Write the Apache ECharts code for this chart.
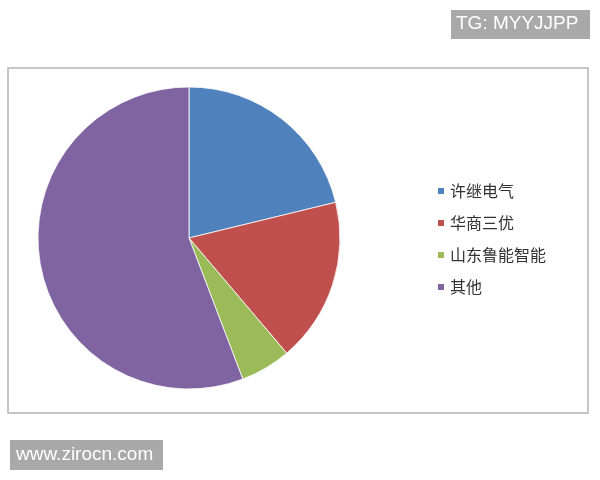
<!DOCTYPE html>
<html>
<head>
<meta charset="utf-8">
<script src="https://cdn.jsdelivr.net/npm/echarts@6/dist/echarts.min.js"></script>
<style>html,body{margin:0;padding:0;background:#fff;}#c{width:600px;height:480px;}</style>
</head>
<body>
<div id="c"></div>
<script>
var categories = ['许继电气', '华商三优', '山东鲁能智能', '其他'];
var values = [21.2, 17.6, 5.4, 55.8];
var colors = ['#4f81bd', '#c0504d', '#9bbb59', '#8064a2'];

var chart = echarts.init(document.getElementById('c'), null, {renderer: 'canvas'});
chart.setOption({
  backgroundColor: '#ffffff',
  animation: false,
  color: colors,
  graphic: [
    {type: 'rect', shape: {x: 8, y: 68, width: 580, height: 345}, style: {fill: 'none', stroke: '#b4b4b4', lineWidth: 1.5}, z: 0},
    {type: 'rect', shape: {x: 451, y: 10, width: 139, height: 29}, style: {fill: '#a9a9a9'}, z: 10},
    {type: 'text', left: 456, top: 14, style: {text: 'TG: MYYJJPP', fill: '#ffffff', font: '19px "Liberation Sans", Arial, sans-serif'}, z: 11},
    {type: 'rect', shape: {x: 10, y: 440, width: 153, height: 30}, style: {fill: '#a9a9a9'}, z: 10},
    {type: 'text', left: 16, top: 445, style: {text: 'www.zirocn.com', fill: '#ffffff', font: '19px "Liberation Sans", Arial, sans-serif'}, z: 11}
  ],
  legend: {
    orient: 'vertical',
    left: 431,
    top: 178,
    itemWidth: 8,
    itemHeight: 8,
    itemGap: 16,
    icon: 'rect',
    textStyle: {fontSize: 16, color: '#333333', fontFamily: '"Noto Sans CJK SC", sans-serif'},
    data: categories
  },
  series: [{
    type: 'pie',
    center: [189, 238],
    radius: 151,
    startAngle: 90,
    clockwise: true,
    label: {show: false},
    labelLine: {show: false},
    itemStyle: {borderColor: '#ffffff', borderWidth: 0.8},
    emphasis: {disabled: true},
    data: categories.map(function (c, i) { return {name: c, value: values[i]}; })
  }]
});
</script>
</body>
</html>
